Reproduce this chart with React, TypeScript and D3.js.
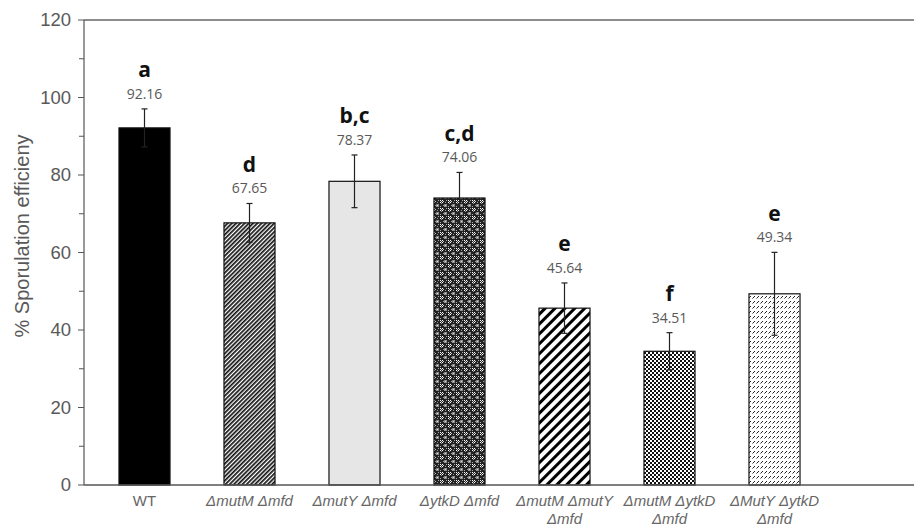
import React from "react";
import * as d3 from "d3";

const width = 914;
const height = 528;
const margin = { top: 20, right: 0, bottom: 43, left: 84 };

const categories = ["WT", "ΔmutM Δmfd", "ΔmutY Δmfd", "ΔytkD Δmfd", "ΔmutM ΔmutY Δmfd", "ΔmutM ΔytkD Δmfd", "ΔMutY ΔytkD Δmfd"];
const labelLines = [["WT"], ["ΔmutM Δmfd"], ["ΔmutY Δmfd"], ["ΔytkD Δmfd"], ["ΔmutM ΔmutY", "Δmfd"], ["ΔmutM ΔytkD", "Δmfd"], ["ΔMutY ΔytkD", "Δmfd"]];
const values = [92.16, 67.65, 78.37, 74.06, 45.64, 34.51, 49.34];
const errors = [4.9, 5.0, 6.8, 6.6, 6.5, 4.8, 10.7];
const letters = ["a", "d", "b,c", "c,d", "e", "f", "e"];
const fills = ["#000", "url(#p-diag)", "#e6e6e6", "url(#p-plaid)", "url(#p-stripe)", "url(#p-check)", "url(#p-dash)"];
const yTicks = [0, 20, 40, 60, 80, 100, 120];

const x = d3.scaleBand<string>()
  .domain(categories)
  .range([92, 827])
  .paddingInner(0.514)
  .paddingOuter(0.257);

const y = d3.scaleLinear()
  .domain([0, 120])
  .range([height - margin.bottom, margin.top]);

const gray = "#595959";

export default function App() {
  const minor = d3.range(10, 120, 20);
  return (
    <svg width={width} height={height} style={{ position: "absolute", left: 0, top: 0, background: "#fff" }}>
      <defs>
        <pattern id="p-diag" width="3" height="3" patternUnits="userSpaceOnUse" patternTransform="rotate(-45)">
          <rect width="3" height="3" fill="#fff" />
          <rect width="3" height="1.7" fill="#111" />
        </pattern>
        <pattern id="p-plaid" width="8" height="8" patternUnits="userSpaceOnUse">
          <rect width="8" height="8" fill="#222" />
          <rect x="0" y="0" width="1" height="1" fill="#fff" />
          <rect x="2" y="0" width="1" height="1" fill="#fff" />
          <rect x="1" y="1" width="1" height="1" fill="#ccc" />
          <rect x="3" y="1" width="1" height="1" fill="#ccc" />
          <rect x="0" y="2" width="1" height="1" fill="#fff" />
          <rect x="2" y="2" width="1" height="1" fill="#fff" />
          <rect x="4" y="4" width="3" height="3" fill="#888" />
          <rect x="5" y="5" width="1" height="1" fill="#ddd" />
          <rect x="6" y="0" width="1" height="1" fill="#aaa" />
          <rect x="0" y="6" width="1" height="1" fill="#aaa" />
          <rect x="1" y="3" width="1" height="1" fill="#999" />
          <rect x="3" y="5" width="1" height="1" fill="#999" />
          <rect x="5" y="2" width="1" height="1" fill="#999" />
        </pattern>
        <pattern id="p-stripe" width="7" height="7" patternUnits="userSpaceOnUse" patternTransform="rotate(45)">
          <rect width="7" height="7" fill="#fff" />
          <rect width="3" height="7" fill="#000" />
        </pattern>
        <pattern id="p-check" width="4" height="4" patternUnits="userSpaceOnUse">
          <rect width="4" height="4" fill="#fff" />
          <rect x="0" y="0" width="2" height="2" fill="#111" />
          <rect x="2" y="2" width="2" height="2" fill="#111" />
        </pattern>
        <pattern id="p-dash" width="4" height="5" patternUnits="userSpaceOnUse">
          <rect width="4" height="5" fill="#fff" />
          <line x1="0.5" y1="3.5" x2="3" y2="1" stroke="#222" strokeWidth="1" />
        </pattern>
      </defs>

      {/* frame lines */}
      <line x1={margin.left} x2={width} y1={y(120)} y2={y(120)} stroke="#666" strokeWidth={1.5} />
      <line x1={margin.left} x2={margin.left} y1={y(120)} y2={y(0)} stroke="#555" strokeWidth={1.2} />

      {yTicks.map(t => (
        <g key={t}>
          <line x1={margin.left - 6} x2={margin.left} y1={y(t)} y2={y(t)} stroke="#555" strokeWidth={1} />
          <text x={margin.left - 13} y={y(t)} dy="0.35em" textAnchor="end" fontFamily="Liberation Sans, Arial" fontSize={18.5} fill={gray}>{t}</text>
        </g>
      ))}
      {minor.map(t => (
        <line key={t} x1={margin.left - 5} x2={margin.left} y1={y(t)} y2={y(t)} stroke="#555" strokeWidth={1} />
      ))}

      <text transform={`translate(22,${236}) rotate(-90)`} textAnchor="middle" dy="0.35em" fontFamily="Liberation Sans, Arial" fontSize={20} fill={gray}>% Sporulation efficieny</text>

      {categories.map((c, i) => {
        const bx = x(c)!;
        const cx = bx + x.bandwidth() / 2;
        const top = y(values[i] + errors[i]);
        return (
          <g key={c}>
            <rect x={bx} y={y(values[i])} width={x.bandwidth()} height={y(0) - y(values[i])} fill={fills[i]} stroke="#111" strokeWidth={1.2} />
            <line x1={cx} x2={cx} y1={top} y2={y(values[i] - errors[i])} stroke="#222" strokeWidth={1.2} />
            <line x1={cx - 3} x2={cx + 3} y1={top} y2={top} stroke="#222" strokeWidth={1.2} />
            <line x1={cx - 3} x2={cx + 3} y1={y(values[i] - errors[i])} y2={y(values[i] - errors[i])} stroke="#222" strokeWidth={1.2} />
            <text x={cx} y={top - 15} dy="0.35em" textAnchor="middle" fontFamily="Open Sans, Noto Sans" fontSize={14} fill={gray}>{values[i].toFixed(2)}</text>
            <text x={cx} y={top - 39} dy="0.35em" textAnchor="middle" fontFamily="Open Sans, Noto Sans" fontWeight="bold" fontSize={21} fill="#111">{letters[i]}</text>
            {labelLines[i].map((ln, k) => (
              <text key={k} x={cx} y={501 + k * 18} dy="0.35em" textAnchor="middle" fontFamily="Liberation Sans, Arial" fontSize={15} fontStyle={i === 0 ? "normal" : "italic"} fill="#666">{ln}</text>
            ))}
          </g>
        );
      })}

      <line x1={margin.left} x2={width} y1={y(0)} y2={y(0)} stroke="#555" strokeWidth={1.5} />
    </svg>
  );
}
